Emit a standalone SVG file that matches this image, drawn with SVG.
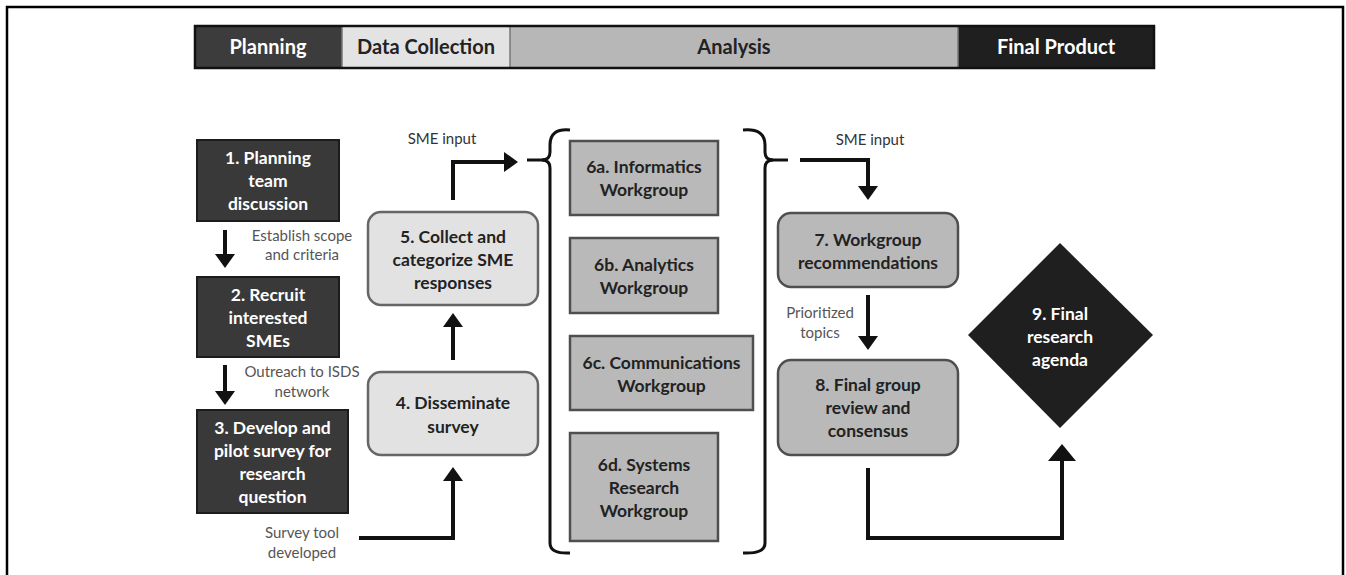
<svg xmlns="http://www.w3.org/2000/svg" width="1346" height="575" viewBox="0 0 1346 575">
  <style>
    .hdr { font-family: Lato, "Open Sans", "Liberation Sans", sans-serif; font-weight: 700; font-size: 20px; text-anchor: middle; }
    .nt { font-family: Lato, "Open Sans", "Liberation Sans", sans-serif; font-weight: 700; font-size: 17.5px; text-anchor: middle; }
    .lbl { font-family: Lato, "Open Sans", "Liberation Sans", sans-serif; font-size: 15px; text-anchor: middle; fill: #555; }
    .sme { font-family: Lato, "Open Sans", "Liberation Sans", sans-serif; font-size: 15px; text-anchor: middle; fill: #333; }
    .light { fill: #fff; }
    .dark { fill: #222; }
    .dkbox { fill: #393939; stroke: #1c1c1c; stroke-width: 2; }
    .ltbox { fill: #e2e2e2; stroke: #666; stroke-width: 2.5; }
    .gybox { fill: #b9b9b9; stroke: #4f4f4f; stroke-width: 2.5; }
    .wire { fill: none; stroke: #111; stroke-width: 4; }
    .brace { fill: none; stroke: #111; stroke-width: 3; }
  </style>
  <defs>
    <marker id="head" markerUnits="userSpaceOnUse" viewBox="0 0 14 20" refX="4" refY="10" markerWidth="14" markerHeight="20" orient="auto">
      <path d="M0,0 L14,10 L0,20 z" fill="#111"/>
    </marker>
    <marker id="headL" markerUnits="userSpaceOnUse" viewBox="0 0 17 28" refX="5" refY="14" markerWidth="17" markerHeight="28" orient="auto">
      <path d="M0,0 L17,14 L0,28 z" fill="#111"/>
    </marker>
  </defs>

  <!-- page frame -->
  <rect x="7" y="7" width="1336" height="600" fill="#fff" stroke="#000" stroke-width="2.5"/>

  <!-- phase header -->
  <g id="header">
    <rect x="195" y="26" width="147" height="42" fill="#3c3c3c"/>
    <rect x="342" y="26" width="168" height="42" fill="#e3e3e3"/>
    <rect x="510" y="26" width="448" height="42" fill="#b7b7b7"/>
    <rect x="958" y="26" width="196" height="42" fill="#1f1f1f"/>
    <line x1="342" y1="26" x2="342" y2="68" stroke="#777" stroke-width="1.5"/>
    <line x1="510" y1="26" x2="510" y2="68" stroke="#777" stroke-width="1.5"/>
    <line x1="958" y1="26" x2="958" y2="68" stroke="#777" stroke-width="1.5"/>
    <rect x="195" y="26" width="959" height="42" fill="none" stroke="#111" stroke-width="2.5"/>
    <text class="hdr light" x="268" y="54">Planning</text>
    <text class="hdr dark" x="426" y="54">Data Collection</text>
    <text class="hdr dark" x="734" y="54">Analysis</text>
    <text class="hdr light" x="1056" y="54">Final Product</text>
  </g>

  <!-- connectors -->
  <g id="connectors">
    <path class="wire" d="M225,230 V258" marker-end="url(#head)"/>
    <path class="wire" d="M225,365 V395" marker-end="url(#head)"/>
    <path class="wire" d="M359,538 H453 V477" marker-end="url(#head)"/>
    <path class="wire" d="M453,360 V323" marker-end="url(#head)"/>
    <path class="wire" d="M453,200 V162 H508" marker-end="url(#head)"/>
    <path class="brace" d="M527,160 H545"/>
    <path class="brace" d="M570,130 Q550,128 550,145 L550,152 Q550,160 542,160 Q550,160 550,168 L550,543 Q550,554 570,553"/>
    <path class="brace" d="M743,130 Q765,128 765,145 L765,152 Q765,160 773,160 Q765,160 765,168 L765,543 Q765,554 743,553"/>
    <path class="brace" d="M770,160 H788"/>
    <path class="wire" d="M800,160 H868 V190" marker-end="url(#head)"/>
    <path class="wire" d="M868,295 V340" marker-end="url(#head)"/>
    <path class="wire" d="M868,468 V538 H1062 V456" marker-end="url(#headL)"/>
    <text class="sme" x="442" y="144">SME input</text>
    <text class="sme" x="870" y="145">SME input</text>
    <text class="lbl" x="302" y="241">Establish scope</text>
    <text class="lbl" x="302" y="260">and criteria</text>
    <text class="lbl" x="302" y="377">Outreach to ISDS</text>
    <text class="lbl" x="302" y="397">network</text>
    <text class="lbl" x="302" y="538" fill="#333">Survey tool</text>
    <text class="lbl" x="302" y="558" fill="#333">developed</text>
    <text class="lbl" x="820" y="318">Prioritized</text>
    <text class="lbl" x="820" y="338">topics</text>
  </g>

  <g id="n1">
    <rect class="dkbox" x="197" y="140" width="142" height="81"/>
    <text class="nt light" x="268" y="164">1. Planning</text>
    <text class="nt light" x="268" y="187">team</text>
    <text class="nt light" x="268" y="210">discussion</text>
  </g>
  <g id="n2">
    <rect class="dkbox" x="197" y="277" width="142" height="80"/>
    <text class="nt light" x="268" y="301">2. Recruit</text>
    <text class="nt light" x="268" y="324">interested</text>
    <text class="nt light" x="268" y="347">SMEs</text>
  </g>
  <g id="n3">
    <rect class="dkbox" x="197" y="410" width="151" height="103"/>
    <text class="nt light" x="272.5" y="434">3. Develop and</text>
    <text class="nt light" x="272.5" y="457">pilot survey for</text>
    <text class="nt light" x="272.5" y="480">research</text>
    <text class="nt light" x="272.5" y="503">question</text>
  </g>
  <g id="n4">
    <rect class="ltbox" x="368" y="372" width="170" height="83" rx="13"/>
    <text class="nt dark" x="453" y="409">4. Disseminate</text>
    <text class="nt dark" x="453" y="433">survey</text>
  </g>
  <g id="n5">
    <rect class="ltbox" x="368" y="212" width="170" height="93" rx="13"/>
    <text class="nt dark" x="453" y="243">5. Collect and</text>
    <text class="nt dark" x="453" y="266">categorize SME</text>
    <text class="nt dark" x="453" y="289">responses</text>
  </g>
  <g id="n6a">
    <rect class="gybox" x="570" y="141" width="148" height="74"/>
    <text class="nt dark" x="644" y="173">6a. Informatics</text>
    <text class="nt dark" x="644" y="196">Workgroup</text>
  </g>
  <g id="n6b">
    <rect class="gybox" x="570" y="238" width="148" height="75"/>
    <text class="nt dark" x="644" y="271">6b. Analytics</text>
    <text class="nt dark" x="644" y="294">Workgroup</text>
  </g>
  <g id="n6c">
    <rect class="gybox" x="570" y="336" width="183" height="74"/>
    <text class="nt dark" x="661.5" y="369">6c. Communications</text>
    <text class="nt dark" x="661.5" y="392">Workgroup</text>
  </g>
  <g id="n6d">
    <rect class="gybox" x="570" y="433" width="148" height="108"/>
    <text class="nt dark" x="644" y="471">6d. Systems</text>
    <text class="nt dark" x="644" y="494">Research</text>
    <text class="nt dark" x="644" y="517">Workgroup</text>
  </g>
  <g id="n7">
    <rect class="gybox" x="778" y="213" width="180" height="74" rx="13"/>
    <text class="nt dark" x="868" y="246">7. Workgroup</text>
    <text class="nt dark" x="868" y="269">recommendations</text>
  </g>
  <g id="n8">
    <rect class="gybox" x="778" y="360" width="180" height="95" rx="13"/>
    <text class="nt dark" x="868" y="391">8. Final group</text>
    <text class="nt dark" x="868" y="414">review and</text>
    <text class="nt dark" x="868" y="437">consensus</text>
  </g>
  <g id="n9">
    <polygon points="1060,243 1153,335 1060,428 968,335" fill="#1f1f1f"/>
    <text class="nt light" x="1060" y="320">9. Final</text>
    <text class="nt light" x="1060" y="343">research</text>
    <text class="nt light" x="1060" y="366">agenda</text>
  </g>
</svg>
